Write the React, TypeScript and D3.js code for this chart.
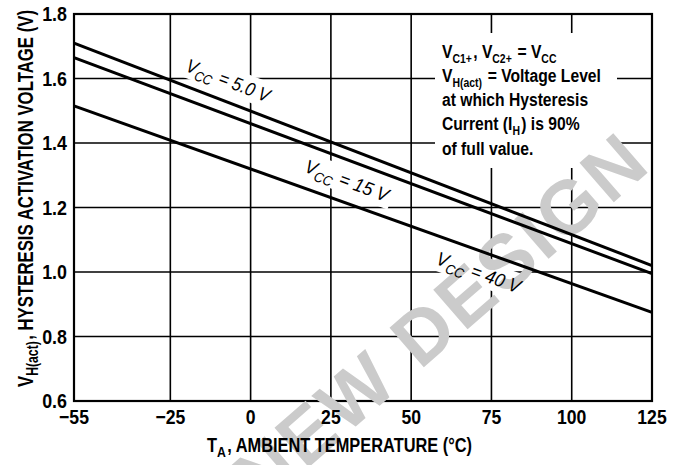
import * as d3 from "d3";

const W = 674;
const H = 465;
const FONT = "'Liberation Sans', Arial, sans-serif";

// temperatures (°C) at which the curves are read
const temps = [-55, 125];
// V_H(act) in volts
const vcc5 = [1.71, 1.02];
const vcc15 = [1.665, 0.995];
const vcc40 = [1.515, 0.875];

const xTicks = [-55, -25, 0, 25, 50, 75, 100, 125];
const yTicks = [0.6, 0.8, 1.0, 1.2, 1.4, 1.6, 1.8];

const curves = [
  { name: "5.0 V", values: vcc5, at: -7, off: -22 },
  { name: "15 V", values: vcc15, at: 30, off: 21 },
  { name: "40 V", values: vcc40, at: 71, off: 22 },
];

const x = d3.scaleLinear().domain([-55, 125]).range([74, 652]);
const y = d3.scaleLinear().domain([0.6, 1.8]).range([401, 14]);

function Sub({ children, size = 12, d = 5 }: { children: any; size?: number; d?: number }) {
  return (
    <>
      <tspan dy={d} fontSize={size}>{children}</tspan>
      <tspan dy={-d}>{"\u200a"}</tspan>
    </>
  );
}

export default function App() {
  const line = d3
    .line<number>()
    .x((_, i) => x(temps[i]))
    .y((d) => y(d));

  const labels = curves.map((c) => {
    const x0 = x(temps[0]);
    const x1 = x(temps[1]);
    const y0 = y(c.values[0]);
    const y1 = y(c.values[1]);
    const ang = (Math.atan2(y1 - y0, x1 - x0) * 180) / Math.PI;
    const v = d3.scaleLinear().domain(temps).range(c.values)(c.at);
    return { ...c, cx: x(c.at), cy: y(v) + c.off, ang };
  });

  const note = [
    { y: 58, body: <>V<Sub>C1+</Sub>, V<Sub>C2+</Sub> = V<Sub>CC</Sub></> },
    { y: 82, body: <>V<Sub>H(act)</Sub> = Voltage Level</> },
    { y: 106, body: <>at which Hysteresis</> },
    { y: 130, body: <>Current (I<Sub>H</Sub>) is 90%</> },
    { y: 155, body: <>of full value.</> },
  ];

  return (
    <svg width={W} height={H} style={{ position: "absolute", left: 0, top: 0, background: "#fff" }} fontFamily={FONT}>
      {/* grid */}
      {xTicks.map((t) => (
        <line key={"gx" + t} x1={x(t)} x2={x(t)} y1={y(1.8)} y2={y(0.6)} stroke="#000" strokeWidth={1.6} />
      ))}
      {yTicks.map((t) => (
        <line key={"gy" + t} x1={x(-55)} x2={x(125)} y1={y(t)} y2={y(t)} stroke="#000" strokeWidth={1.6} />
      ))}
      <rect x={x(-55)} y={y(1.8)} width={x(125) - x(-55)} height={y(0.6) - y(1.8)} fill="none" stroke="#000" strokeWidth={2.2} />

      {/* white backing for the note */}
      <rect x={435} y={33} width={182} height={135} fill="#fff" />

      {/* white backing for curve labels */}
      {labels.map((l) => (
        <rect
          key={"bk" + l.name}
          x={-48}
          y={-13}
          width={96}
          height={26}
          fill="#fff"
          transform={`translate(${l.cx},${l.cy}) rotate(${l.ang})`}
        />
      ))}

      {/* watermark */}
      <text
        transform="translate(440,318) rotate(-41)"
        textAnchor="middle"
        dy="0.35em"
        fontSize={76}
        fontWeight="bold"
        letterSpacing={3}
        fill="#cbcbcb"
      >
        NEW DESIGN
      </text>

      {/* curves */}
      {curves.map((c) => (
        <path key={c.name} d={line(c.values) ?? ""} fill="none" stroke="#000" strokeWidth={3} />
      ))}

      {labels.map((l) => (
        <text
          key={"lb" + l.name}
          transform={`translate(${l.cx},${l.cy}) rotate(${l.ang})`}
          textAnchor="middle"
          dy="0.35em"
          fontSize={19}
          fontStyle="italic"
          textLength={88}
          lengthAdjust="spacingAndGlyphs"
        >
          V<Sub size={14}>CC</Sub> = {l.name}
        </text>
      ))}

      {/* note */}
      <g fontSize={18} fontWeight="bold">
        {note.map((n, i) => (
          <text key={i} transform={`translate(442,${n.y}) scale(0.87,1)`}>
            {n.body}
          </text>
        ))}
      </g>

      {/* tick labels */}
      {yTicks.map((t) => (
        <text
          key={"ty" + t}
          transform={`translate(67,${y(t)}) scale(0.85,1)`}
          dy="0.35em"
          textAnchor="end"
          fontSize={21}
          fontWeight="bold"
        >
          {d3.format(".1f")(t)}
        </text>
      ))}
      {xTicks.map((t) => (
        <text
          key={"tx" + t}
          transform={`translate(${x(t)},424) scale(0.88,1)`}
          textAnchor="middle"
          fontSize={20}
          fontWeight="bold"
        >
          {t < 0 ? "\u2212" + Math.abs(t) : t}
        </text>
      ))}

      {/* axis titles */}
      <text x={207} y={452} fontSize={20} fontWeight="bold" textLength={265} lengthAdjust="spacingAndGlyphs">
        T<Sub size={15}>A</Sub>, AMBIENT TEMPERATURE (°C)
      </text>
      <text
        transform="translate(33,387) rotate(-90)"
        fontSize={22}
        fontWeight="bold"
        textLength={377}
        lengthAdjust="spacingAndGlyphs"
      >
        V<Sub size={16}>H(act)</Sub>, HYSTERESIS ACTIVATION VOLTAGE (V)
      </text>
    </svg>
  );
}
